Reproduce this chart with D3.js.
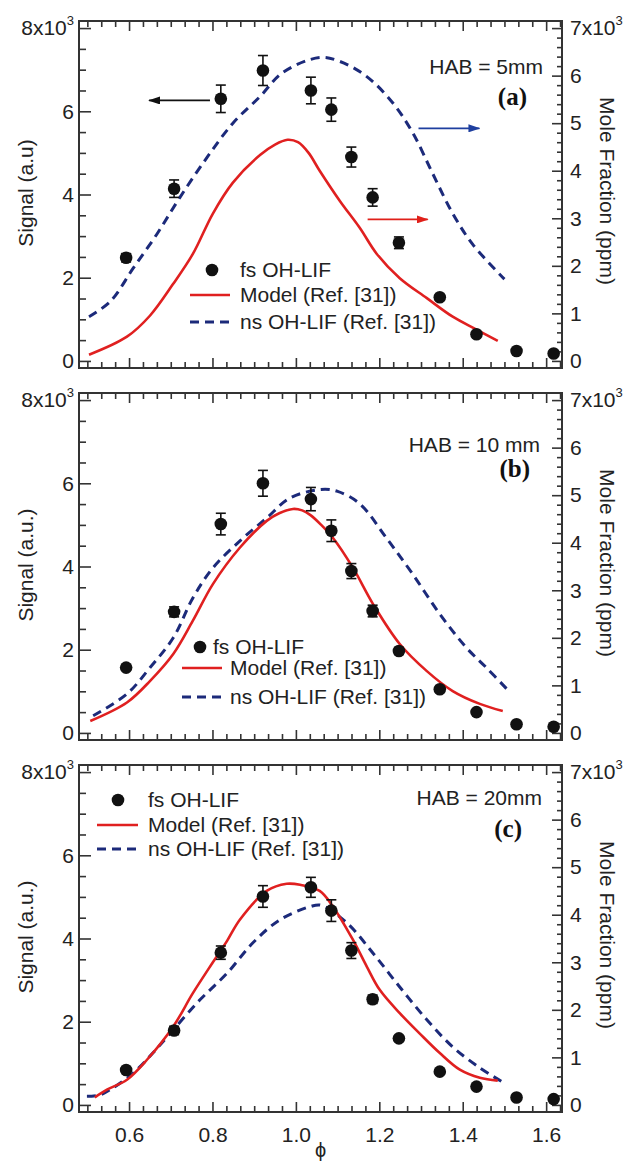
<!DOCTYPE html>
<html>
<head>
<meta charset="utf-8">
<script src="https://cdn.jsdelivr.net/npm/d3@7"></script>
<style>
body { margin: 0; background: #fff; }
text { font-family: "Liberation Sans", Arial, sans-serif; }
</style>
</head>
<body>
<svg id="chart" width="627" height="1166"></svg>
<script>
// equivalence ratio of the measured points (same for all three heights)
var phiPts = [0.593, 0.708, 0.82, 0.921, 1.036, 1.085, 1.133, 1.184, 1.247, 1.345, 1.433, 1.529, 1.618];

// fs OH-LIF signal (a.u.) and error bars
var sigA = [2480, 4140, 6300, 6980, 6500, 6040, 4900, 3930, 2840, 1530, 640, 240, 180];
var errA = [100, 210, 330, 360, 320, 280, 240, 210, 140, 60, 0, 0, 0];
var sigB = [1570, 2910, 5020, 6000, 5620, 4860, 3890, 2930, 1970, 1050, 500, 210, 150];
var errB = [60, 120, 260, 310, 280, 260, 180, 140, 80, 0, 0, 0, 0];
var sigC = [840, 1790, 3660, 5010, 5230, 4670, 3710, 2540, 1600, 800, 440, 180, 140];
var errC = [0, 100, 160, 260, 240, 260, 190, 100, 60, 0, 0, 0, 0];

// Model (Ref. [31]), mole fraction (ppm)
var modelPhiA = [0.504, 0.595, 0.65, 0.705, 0.753, 0.801, 0.849, 0.914, 0.95, 0.98, 1.005, 1.03, 1.057, 1.105, 1.153, 1.194, 1.249, 1.314, 1.376, 1.433, 1.484];
var modelA = [0.13, 0.51, 0.95, 1.61, 2.25, 3.1, 3.75, 4.33, 4.55, 4.65, 4.6, 4.38, 4.0, 3.37, 2.8, 2.25, 1.74, 1.32, 0.93, 0.66, 0.42];
var modelPhiB = [0.507, 0.595, 0.65, 0.706, 0.753, 0.801, 0.866, 0.93, 0.96, 0.993, 1.015, 1.035, 1.06, 1.089, 1.137, 1.185, 1.249, 1.314, 1.376, 1.441, 1.496];
var modelB = [0.25, 0.64, 1.09, 1.66, 2.36, 3.13, 3.9, 4.46, 4.62, 4.71, 4.68, 4.58, 4.38, 4.1, 3.47, 2.71, 1.87, 1.3, 0.88, 0.61, 0.46];
var modelPhiC = [0.518, 0.547, 0.595, 0.643, 0.706, 0.753, 0.801, 0.835, 0.866, 0.93, 0.978, 1.01, 1.057, 1.089, 1.137, 1.17, 1.201, 1.249, 1.297, 1.345, 1.393, 1.441, 1.484];
var modelC = [0.16, 0.32, 0.53, 0.95, 1.65, 2.35, 3.0, 3.45, 3.9, 4.5, 4.65, 4.63, 4.5, 4.17, 3.47, 2.91, 2.42, 1.93, 1.5, 1.09, 0.74, 0.57, 0.51];

// ns OH-LIF (Ref. [31]), mole fraction (ppm)
var nsPhiA = [0.504, 0.555, 0.61, 0.667, 0.722, 0.787, 0.849, 0.914, 0.969, 1.057, 1.105, 1.17, 1.232, 1.28, 1.328, 1.376, 1.424, 1.5];
var nsA = [0.93, 1.25, 1.95, 2.67, 3.44, 4.28, 5.0, 5.56, 6.07, 6.38, 6.3, 5.98, 5.43, 4.8, 3.94, 3.1, 2.45, 1.72];
var nsPhiB = [0.514, 0.595, 0.65, 0.706, 0.753, 0.801, 0.866, 0.93, 0.986, 1.06, 1.1, 1.153, 1.217, 1.28, 1.345, 1.409, 1.457, 1.505];
var nsB = [0.36, 0.82, 1.37, 2.0, 2.84, 3.47, 4.04, 4.52, 4.94, 5.12, 5.08, 4.82, 4.1, 3.34, 2.5, 1.79, 1.37, 0.93];
var nsPhiC = [0.499, 0.53, 0.56, 0.61, 0.657, 0.706, 0.77, 0.835, 0.897, 0.961, 1.034, 1.06, 1.122, 1.185, 1.249, 1.314, 1.376, 1.441, 1.494];
var nsC = [0.18, 0.21, 0.35, 0.67, 1.09, 1.58, 2.21, 2.77, 3.41, 3.89, 4.17, 4.2, 3.83, 3.19, 2.48, 1.79, 1.22, 0.78, 0.49];

// tick labels
var phiTicks = [0.6, 0.8, 1.0, 1.2, 1.4, 1.6];
var signalTicks = [0, 2000, 4000, 6000, 8000];
var moleTicks = [0, 1, 2, 3, 4, 5, 6, 7];

var habLabels = ["HAB = 5mm", "HAB = 10 mm", "HAB = 20mm"];
var panelLetters = ["(a)", "(b)", "(c)"];
var signalTitles = ["Signal (a.u)", "Signal (a.u.)", "Signal (a.u.)"];
var legendTexts = ["fs OH-LIF", "Model (Ref. [31])", "ns OH-LIF (Ref. [31])"];

var panels = [
  {sig: sigA, err: errA, mPhi: modelPhiA, m: modelA, nPhi: nsPhiA, n: nsA},
  {sig: sigB, err: errB, mPhi: modelPhiB, m: modelB, nPhi: nsPhiB, n: nsB},
  {sig: sigC, err: errC, mPhi: modelPhiC, m: modelC, nPhi: nsPhiC, n: nsC}
];

// layout
var svg = d3.select("#chart");
var left = 79, right = 562, panelH = 347;
var tops = [21, 393, 765];
var red = "#e02020", navy = "#1c2a7a";

// per panel: hab text, letter, legend placement
var habPos = [[543, 53], [540, 59], [542, 40]];
var letterPos = [[527, 84], [530, 84], [522, 72]];
var legendPos = [
  {dot: [212, 249], dotText: 240, lineX: [190, 230], text: 240, rows: [249, 274, 301]},
  {dot: [200, 254], dotText: 213, lineX: [182, 222], text: 230, rows: [254, 275, 304]},
  {dot: [118, 35], dotText: 148, lineX: [97, 138], text: 148, rows: [35, 60, 84]}
];

var x = d3.scaleLinear().domain([0.48, 1.638]).range([left, right]);

var xMinor = d3.range(0, 35).map(function(k) { return 0.5 + k / 30; })
  .filter(function(v, k) { return k % 6 != 3 && v < 1.637; });
var yMinor = d3.range(500, 8000, 500).filter(function(v) { return v % 2000 != 0; });
var rMinor = d3.range(1, 36).map(function(k) { return k / 5; }).filter(function(v, k) { return (k + 1) % 5 != 0 && v < 7.05; });

function styleAxis(sel) {
  sel.select(".domain").remove();
  sel.selectAll(".tick line").attr("stroke", "#333").attr("stroke-width", 1.6);
  sel.selectAll(".tick text").attr("font-size", 21).attr("fill", "#222")
    .attr("font-family", "Liberation Sans, Arial, sans-serif");
}

var defs = svg.append("defs");
[["arrBlack", "#111"], ["arrBlue", "#1e3f9f"], ["arrRed", "#e0201a"]].forEach(function(a) {
  defs.append("marker").attr("id", a[0]).attr("viewBox", "0 0 12 8")
    .attr("refX", 11).attr("refY", 4).attr("markerWidth", 12).attr("markerHeight", 8)
    .attr("markerUnits", "userSpaceOnUse").attr("orient", "auto")
    .append("path").attr("d", "M0,0L12,4L0,8Z").attr("fill", a[1]);
});

panels.forEach(function(p, i) {
  var top = tops[i], bottom = top + panelH;
  var yL = d3.scaleLinear().domain([-170, 8170]).range([bottom, top]);
  var yR = d3.scaleLinear().domain([-0.149, 7.149]).range([bottom, top]);
  var g = svg.append("g");

  // ticks, all pointing inward
  g.append("g").attr("transform", "translate(" + left + ",0)")
    .call(d3.axisLeft(yL).tickValues(signalTicks).tickSize(-12).tickPadding(5)
      .tickFormat(function(d) { return d / 1000; }))
    .call(styleAxis)
    .selectAll(".tick text").filter(function(d) { return d == 8000; })
    .text("8x10").append("tspan").attr("dy", -10).attr("font-size", 13).text("3");
  g.append("g").attr("transform", "translate(" + left + ",0)")
    .call(d3.axisLeft(yL).tickValues(yMinor).tickSize(-7).tickFormat(""))
    .call(styleAxis);

  g.append("g").attr("transform", "translate(" + right + ",0)")
    .call(d3.axisRight(yR).tickValues(moleTicks).tickSize(-10).tickPadding(8))
    .call(styleAxis)
    .selectAll(".tick text").filter(function(d) { return d == 7; })
    .text("7x10").append("tspan").attr("dy", -10).attr("font-size", 13).text("3");
  g.append("g").attr("transform", "translate(" + right + ",0)")
    .call(d3.axisRight(yR).tickValues(rMinor).tickSize(-5).tickFormat(""))
    .call(styleAxis);

  g.append("g").attr("transform", "translate(0," + bottom + ")")
    .call(d3.axisBottom(x).tickValues(phiTicks).tickSize(-10).tickPadding(15)
      .tickFormat(i == 2 ? d3.format(".1f") : ""))
    .call(styleAxis);
  g.append("g").attr("transform", "translate(0," + bottom + ")")
    .call(d3.axisBottom(x).tickValues(xMinor).tickSize(-6).tickFormat(""))
    .call(styleAxis);
  g.append("g").attr("transform", "translate(0," + top + ")")
    .call(d3.axisTop(x).tickValues(phiTicks).tickSize(-10).tickFormat(""))
    .call(styleAxis);
  g.append("g").attr("transform", "translate(0," + top + ")")
    .call(d3.axisTop(x).tickValues(xMinor).tickSize(-6).tickFormat(""))
    .call(styleAxis);

  // frame
  g.append("rect").attr("x", left).attr("y", top)
    .attr("width", right - left).attr("height", panelH)
    .attr("fill", "none").attr("stroke", "#333").attr("stroke-width", 2);

  // curves
  var line = d3.line().curve(d3.curveCatmullRom.alpha(0.5));
  g.append("path")
    .attr("d", line(p.nPhi.map(function(v, k) { return [x(v), yR(p.n[k])]; })))
    .attr("fill", "none").attr("stroke", navy).attr("stroke-width", 3)
    .attr("stroke-dasharray", "9,6");
  g.append("path")
    .attr("d", line(p.mPhi.map(function(v, k) { return [x(v), yR(p.m[k])]; })))
    .attr("fill", "none").attr("stroke", red).attr("stroke-width", 2.6);

  // error bars + points
  var pts = g.append("g").selectAll("g").data(phiPts).enter().append("g");
  pts.each(function(d, k) {
    if (!(p.err[k] > 0)) return;
    var e = d3.select(this), cx = x(d);
    var y1 = yL(p.sig[k] - p.err[k]), y2 = yL(p.sig[k] + p.err[k]);
    e.append("line").attr("x1", cx).attr("x2", cx).attr("y1", y1).attr("y2", y2);
    e.append("line").attr("x1", cx - 5).attr("x2", cx + 5).attr("y1", y1).attr("y2", y1);
    e.append("line").attr("x1", cx - 5).attr("x2", cx + 5).attr("y1", y2).attr("y2", y2);
    e.selectAll("line").attr("stroke", "#111").attr("stroke-width", 1.6);
  });
  pts.append("circle")
    .attr("cx", function(d) { return x(d); })
    .attr("cy", function(d, k) { return yL(p.sig[k]); })
    .attr("r", 6.3).attr("fill", "#111");

  // axis titles
  g.append("text").attr("transform", "translate(26," + (top + 172) + ") rotate(-90)")
    .attr("text-anchor", "middle").attr("dy", "0.35em").attr("font-size", 21)
    .attr("fill", "#222").text(signalTitles[i]);
  g.append("text").attr("transform", "translate(607," + (top + 170) + ") rotate(90)")
    .attr("text-anchor", "middle").attr("dy", "0.35em").attr("font-size", 21)
    .attr("fill", "#222").text("Mole Fraction (ppm)");

  // annotations
  g.append("text").attr("x", habPos[i][0]).attr("y", top + habPos[i][1])
    .attr("text-anchor", "end").attr("font-size", 21).attr("fill", "#222").text(habLabels[i]);
  g.append("text").attr("x", letterPos[i][0]).attr("y", top + letterPos[i][1])
    .attr("text-anchor", "end").attr("font-size", 25).attr("font-weight", "bold")
    .style("font-family", "'Liberation Serif', 'Times New Roman', serif")
    .attr("fill", "#111").text(panelLetters[i]);

  // legend
  var lp = legendPos[i];
  var lg = g.append("g").attr("font-size", 21).attr("fill", "#222");
  lg.append("circle").attr("cx", lp.dot[0]).attr("cy", top + lp.dot[1]).attr("r", 6.3).attr("fill", "#111");
  lg.append("line").attr("x1", lp.lineX[0]).attr("x2", lp.lineX[1])
    .attr("y1", top + lp.rows[1]).attr("y2", top + lp.rows[1])
    .attr("stroke", red).attr("stroke-width", 2.6);
  lg.append("line").attr("x1", lp.lineX[0]).attr("x2", lp.lineX[1])
    .attr("y1", top + lp.rows[2]).attr("y2", top + lp.rows[2])
    .attr("stroke", navy).attr("stroke-width", 3).attr("stroke-dasharray", "9,6");
  legendTexts.forEach(function(t, k) {
    lg.append("text").attr("x", k == 0 ? lp.dotText : lp.text).attr("y", top + lp.rows[k])
      .attr("dy", "0.35em").text(t);
  });

  // arrows in panel (a) showing which axis each data set belongs to
  if (i == 0) {
    var arrows = [
      {from: [0.794, 6260], to: [0.648, 6260], c: "#111", m: "arrBlack"},
      {from: [1.294, 5590], to: [1.44, 5590], c: "#1e3f9f", m: "arrBlue"},
      {from: [1.172, 3400], to: [1.316, 3400], c: "#e0201a", m: "arrRed"}
    ];
    arrows.forEach(function(a) {
      g.append("line").attr("x1", x(a.from[0])).attr("y1", yL(a.from[1]))
        .attr("x2", x(a.to[0])).attr("y2", yL(a.to[1]))
        .attr("stroke", a.c).attr("stroke-width", 1.8)
        .attr("marker-end", "url(#" + a.m + ")");
    });
  }
});

// x axis title
svg.append("text").attr("x", (left + right) / 2).attr("y", 1157)
  .attr("text-anchor", "middle").attr("font-size", 20).attr("fill", "#222").text("ϕ");
</script>
</body>
</html>
